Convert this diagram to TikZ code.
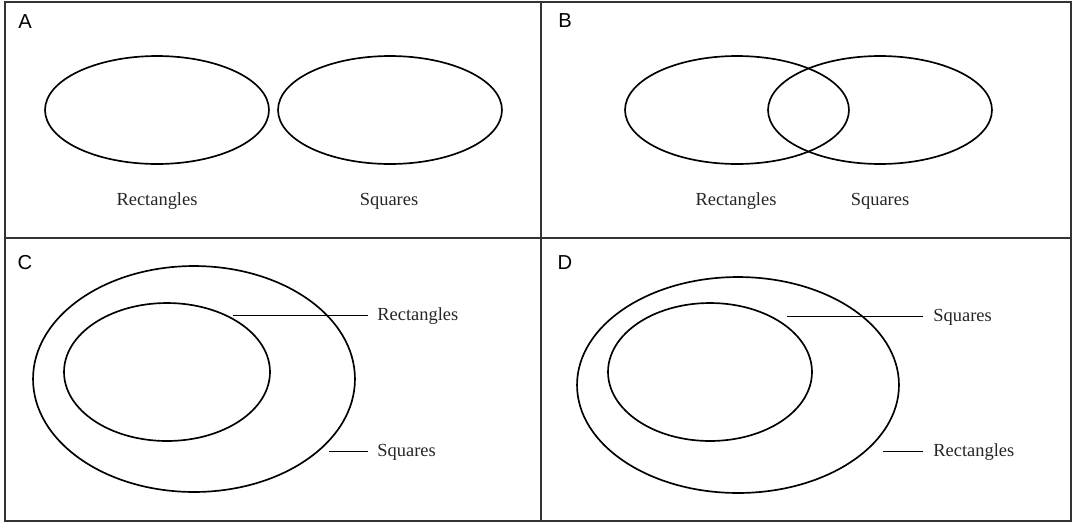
\documentclass[tikz,border=0pt]{standalone}
\usepackage{fontspec}
\setmainfont{Liberation Serif}
\newfontfamily\panelfont{Liberation Sans}
\usepackage{tikz}
\usetikzlibrary{shapes.geometric}

\begin{document}
\begin{tikzpicture}[x=0.02cm, y=-0.02cm,
  set/.style={ellipse, draw, line width=0.95pt, inner sep=0pt},
  label/.style={font=\fontsize{10.5}{12}\selectfont, text=black!85, inner sep=0pt},
  panel/.style={font=\panelfont\fontsize{11.5}{13}\selectfont, inner sep=0pt}]
\useasboundingbox (0,0) rectangle (1075,525);

% frame
\draw[line width=1.1pt, black!80] (5,2) rectangle (1071,521);
\draw[line width=1.1pt, black!80] (541,2) -- (541,521);
\draw[line width=1.1pt, black!80] (5,238) -- (1071,238);

\node[panel] (pa) at (25,22) {A};
\node[panel] (pb) at (565,21) {B};
\node[panel] (pc) at (25,263) {C};
\node[panel] (pd) at (565,263) {D};

% A
\node[set, minimum width=4.48cm, minimum height=2.16cm] (recta) at (157,110) {};
\node[set, minimum width=4.48cm, minimum height=2.16cm] (squa) at (390,110) {};
\node[label] (lrecta) at (157,201) {Rectangles};
\node[label] (lsqua) at (389,201) {Squares};

% B
\node[set, minimum width=4.48cm, minimum height=2.16cm] (rectb) at (737,110) {};
\node[set, minimum width=4.48cm, minimum height=2.16cm] (squb) at (880,110) {};
\node[label] (lrectb) at (736,201) {Rectangles};
\node[label] (lsqub) at (880,201) {Squares};

% C
\node[set, minimum width=6.44cm, minimum height=4.52cm] (squc) at (194,379) {};
\node[set, minimum width=4.12cm, minimum height=2.76cm] (rectc) at (167,372) {};
\node[label, anchor=west] (lrectc) at (377,316) {Rectangles};
\node[label, anchor=west] (lsquc) at (377,452) {Squares};
\coordinate (prectc) at (233,315);
\coordinate (psquc) at (329,451);
\draw (prectc) -- (prectc -| 368,0);
\draw (psquc) -- (psquc -| 368,0);

% D
\node[set, minimum width=6.44cm, minimum height=4.32cm] (rectd) at (738,385) {};
\node[set, minimum width=4.08cm, minimum height=2.76cm] (squd) at (710,372) {};
\node[label, anchor=west] (lsqud) at (933,317) {Squares};
\node[label, anchor=west] (lrectd) at (933,452) {Rectangles};
\coordinate (psqud) at (787,316);
\coordinate (prectd) at (883,451);
\draw (psqud) -- (psqud -| 923,0);
\draw (prectd) -- (prectd -| 923,0);

\end{tikzpicture}
\end{document}
